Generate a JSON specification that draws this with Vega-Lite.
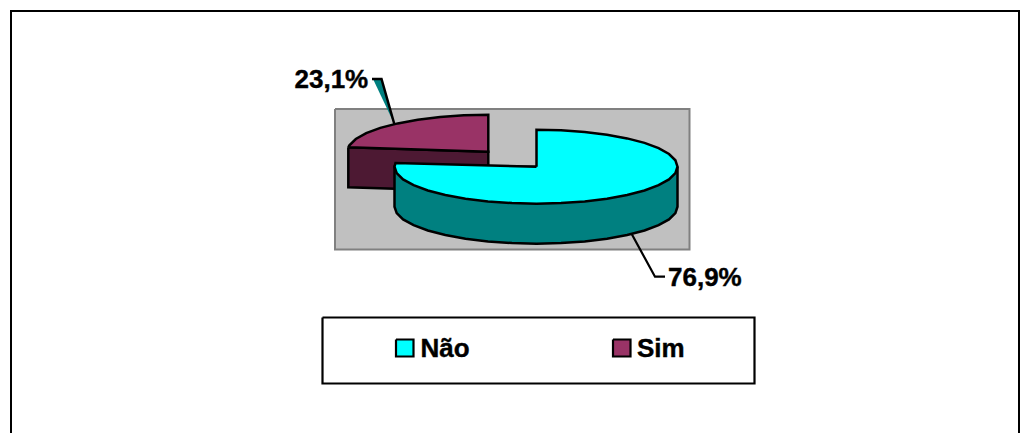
{"$schema":"https://vega.github.io/schema/vega-lite/v6.json","width":1021,"height":433,"padding":0,"autosize":{"type":"none"},"background":"#ffffff","config":{"view":{"stroke":null}},
"datasets":{
"frame":[{"i":0,"x":11,"y":433},{"i":1,"x":11,"y":11},{"i":2,"x":1019,"y":11},{"i":3,"x":1019,"y":433}],
"plot":[{"i":0,"x":335,"y":109},{"i":1,"x":689.5,"y":109},{"i":2,"x":689.5,"y":249.5},{"i":3,"x":335,"y":249.5},{"i":4,"x":335,"y":109}],
"simSide":[{"i":0,"x":348.3,"y":147.3},{"i":1,"x":488.3,"y":151.7},{"i":2,"x":488.3,"y":191.7},{"i":3,"x":348.3,"y":187.3},{"i":4,"x":348.3,"y":147.3}],
"simTop":[{"i":0,"x":348.3,"y":147.3},{"i":1,"x":349.4,"y":145.3},{"i":2,"x":355.8,"y":139},{"i":3,"x":366.2,"y":133.2},{"i":4,"x":380.3,"y":127.9},{"i":5,"x":397.7,"y":123.4},{"i":6,"x":417.8,"y":119.7},{"i":7,"x":440.1,"y":116.9},{"i":8,"x":463.8,"y":115.3},{"i":9,"x":488.3,"y":114.7},{"i":10,"x":488.3,"y":151.7},{"i":11,"x":348.3,"y":147.3}],
"naoSide":[{"i":0,"x":677.5,"y":166.7},{"i":1,"x":677.5,"y":206.7},{"i":2,"x":675.4,"y":213.1},{"i":3,"x":669,"y":219.4},{"i":4,"x":658.6,"y":225.2},{"i":5,"x":644.5,"y":230.5},{"i":6,"x":627.1,"y":235},{"i":7,"x":607,"y":238.7},{"i":8,"x":584.7,"y":241.5},{"i":9,"x":561,"y":243.1},{"i":10,"x":536.5,"y":243.7},{"i":11,"x":512,"y":243.1},{"i":12,"x":488,"y":241.5},{"i":13,"x":465.5,"y":238.7},{"i":14,"x":445.3,"y":235},{"i":15,"x":427.8,"y":230.5},{"i":16,"x":413.6,"y":225.2},{"i":17,"x":403.1,"y":219.4},{"i":18,"x":396.7,"y":213.1},{"i":19,"x":394.5,"y":206.7},{"i":20,"x":394.5,"y":166.7},{"i":21,"x":677.5,"y":166.7}],
"naoTop":[{"i":0,"x":536.5,"y":166.7},{"i":1,"x":536.5,"y":129.7},{"i":2,"x":561,"y":130.3},{"i":3,"x":584.7,"y":131.9},{"i":4,"x":607,"y":134.7},{"i":5,"x":627.1,"y":138.4},{"i":6,"x":644.5,"y":142.9},{"i":7,"x":658.6,"y":148.2},{"i":8,"x":669,"y":154},{"i":9,"x":675.4,"y":160.3},{"i":10,"x":677.5,"y":166.7},{"i":11,"x":675.4,"y":173.1},{"i":12,"x":669,"y":179.4},{"i":13,"x":658.6,"y":185.2},{"i":14,"x":644.5,"y":190.5},{"i":15,"x":627.1,"y":195},{"i":16,"x":607,"y":198.7},{"i":17,"x":584.7,"y":201.5},{"i":18,"x":561,"y":203.1},{"i":19,"x":536.5,"y":203.7},{"i":20,"x":512,"y":203.1},{"i":21,"x":488,"y":201.5},{"i":22,"x":465.5,"y":198.7},{"i":23,"x":445.3,"y":195},{"i":24,"x":427.8,"y":190.5},{"i":25,"x":413.6,"y":185.2},{"i":26,"x":403.1,"y":179.4},{"i":27,"x":396.7,"y":173.1},{"i":28,"x":394.5,"y":166.7},{"i":29,"x":395.5,"y":163},{"i":30,"x":536.5,"y":166.7}],
"wedge":[{"i":0,"x":373.5,"y":80},{"i":1,"x":381.5,"y":80},{"i":2,"x":394.3,"y":124},{"i":3,"x":373.5,"y":80}],
"leaderSim":[{"i":0,"x":372,"y":79},{"i":1,"x":381.5,"y":79},{"i":2,"x":394.3,"y":124}],
"leaderNao":[{"i":0,"x":631.7,"y":234},{"i":1,"x":655,"y":276.7},{"i":2,"x":665,"y":276.7}],
"legendBox":[{"i":0,"x":322.5,"y":317.5},{"i":1,"x":754.5,"y":317.5},{"i":2,"x":754.5,"y":383.5},{"i":3,"x":322.5,"y":383.5},{"i":4,"x":322.5,"y":317.5}],
"swatchNao":[{"i":0,"x":396,"y":339.5},{"i":1,"x":413.5,"y":339.5},{"i":2,"x":413.5,"y":356.5},{"i":3,"x":396,"y":356.5},{"i":4,"x":396,"y":339.5}],
"swatchSim":[{"i":0,"x":613,"y":339.5},{"i":1,"x":630.5,"y":339.5},{"i":2,"x":630.5,"y":356.5},{"i":3,"x":613,"y":356.5},{"i":4,"x":613,"y":339.5}],
"labels":[{"label":"23,1%","x":294.5,"y":88.3},{"label":"76,9%","x":668,"y":286},{"label":"Não","x":420.5,"y":357.3},{"label":"Sim","x":637,"y":357.3}]
},
"encoding":{"x":{"field":"x","type":"quantitative","axis":null,"scale":{"domain":[0,1021],"nice":false,"zero":false}},"y":{"field":"y","type":"quantitative","axis":null,"scale":{"domain":[433,0],"nice":false,"zero":false}}},
"layer":[
{"data":{"name":"frame"},"mark":{"type":"line","stroke":"#000000","strokeWidth":2,"strokeJoin":"miter"},"encoding":{"order":{"field":"i"}}},
{"data":{"name":"plot"},"mark":{"type":"line","fill":"#C0C0C0","stroke":"#808080","strokeWidth":2,"strokeJoin":"miter"},"encoding":{"order":{"field":"i"}}},
{"data":{"name":"simSide"},"mark":{"type":"line","fill":"#4D1933","stroke":"#000000","strokeWidth":2.5,"strokeJoin":"miter"},"encoding":{"order":{"field":"i"}}},
{"data":{"name":"simTop"},"mark":{"type":"line","fill":"#993366","stroke":"#000000","strokeWidth":2.5,"strokeJoin":"miter"},"encoding":{"order":{"field":"i"}}},
{"data":{"name":"naoSide"},"mark":{"type":"line","fill":"#008080","stroke":"#000000","strokeWidth":2.5,"strokeJoin":"miter"},"encoding":{"order":{"field":"i"}}},
{"data":{"name":"naoTop"},"mark":{"type":"line","fill":"#00FFFF","stroke":"#000000","strokeWidth":2.5,"strokeJoin":"miter"},"encoding":{"order":{"field":"i"}}},
{"data":{"name":"wedge"},"mark":{"type":"line","fill":"#008080","strokeWidth":0},"encoding":{"order":{"field":"i"}}},
{"data":{"name":"leaderSim"},"mark":{"type":"line","stroke":"#000000","strokeWidth":2.5,"strokeJoin":"miter"},"encoding":{"order":{"field":"i"}}},
{"data":{"name":"leaderNao"},"mark":{"type":"line","stroke":"#000000","strokeWidth":2.2,"strokeJoin":"miter"},"encoding":{"order":{"field":"i"}}},
{"data":{"name":"legendBox"},"mark":{"type":"line","fill":"#FFFFFF","stroke":"#000000","strokeWidth":2.2,"strokeJoin":"miter"},"encoding":{"order":{"field":"i"}}},
{"data":{"name":"swatchNao"},"mark":{"type":"line","fill":"#00FFFF","stroke":"#000000","strokeWidth":2.2,"strokeJoin":"miter"},"encoding":{"order":{"field":"i"}}},
{"data":{"name":"swatchSim"},"mark":{"type":"line","fill":"#993366","stroke":"#000000","strokeWidth":2.2,"strokeJoin":"miter"},"encoding":{"order":{"field":"i"}}},
{"data":{"name":"labels"},"mark":{"type":"text","font":"Liberation Sans","fontWeight":"bold","fontSize":26,"align":"left","baseline":"alphabetic","color":"#000000","stroke":"#000000","strokeWidth":0.4},"encoding":{"text":{"field":"label","type":"nominal"}}}
]}
